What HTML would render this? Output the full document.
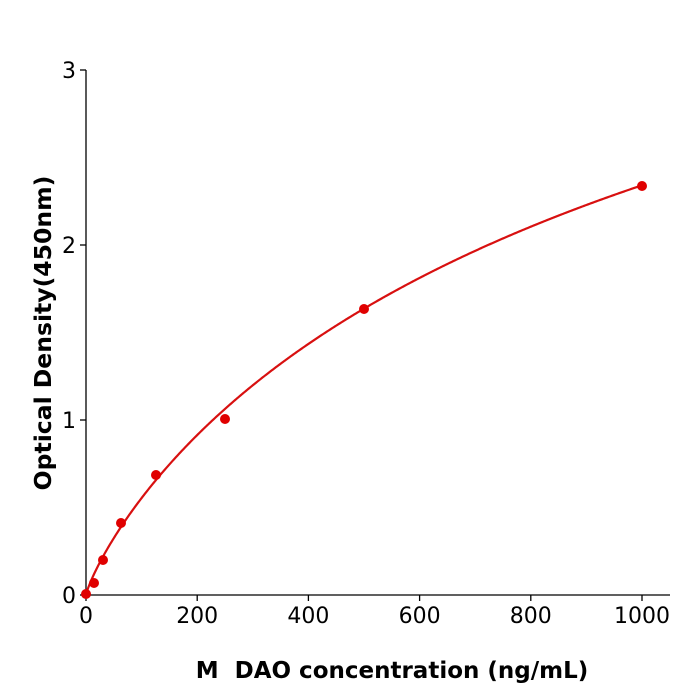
<!DOCTYPE html>
<html><head><meta charset="utf-8"><style>
body{margin:0;background:#fff}
svg{display:block}
text{font-family:"DejaVu Sans","Liberation Sans",sans-serif}
</style></head><body>
<svg id="s" width="700" height="700" viewBox="0 0 700 700">
<g stroke="#000" stroke-width="1.3" fill="none">
<line x1="86" y1="70" x2="86" y2="596"/>
<line x1="85" y1="595" x2="670" y2="595"/>
<line x1="80" y1="70" x2="86" y2="70"/>
<line x1="80" y1="245" x2="86" y2="245"/>
<line x1="80" y1="420" x2="86" y2="420"/>
<line x1="80" y1="595" x2="86" y2="595"/>
<line x1="86" y1="595" x2="86" y2="601"/>
<line x1="197.2" y1="595" x2="197.2" y2="601"/>
<line x1="308.4" y1="595" x2="308.4" y2="601"/>
<line x1="419.6" y1="595" x2="419.6" y2="601"/>
<line x1="530.8" y1="595" x2="530.8" y2="601"/>
<line x1="642" y1="595" x2="642" y2="601"/>
</g>
<g font-size="22" fill="#000" text-anchor="end">
<text x="76" y="78">3</text><text x="76" y="253">2</text><text x="76" y="428">1</text><text x="76" y="603">0</text>
</g>
<g font-size="22" fill="#000" text-anchor="middle">
<text x="86" y="623">0</text><text x="197.2" y="623">200</text><text x="308.4" y="623">400</text><text x="419.6" y="623">600</text><text x="530.8" y="623">800</text><text x="642" y="623">1000</text>
</g>
<text x="392" y="678" font-size="23" font-weight="bold" text-anchor="middle" xml:space="preserve" style="white-space:pre">M  DAO concentration (ng/mL)</text>
<text transform="translate(51,333) rotate(-90)" font-size="23.5" font-weight="bold" text-anchor="middle">Optical Density(450nm)</text>
<path id="c" fill="none" stroke="#d81010" stroke-width="2.2"/>
<g fill="#e00000">
<circle cx="86" cy="594" r="5"/><circle cx="94" cy="583" r="5"/><circle cx="103" cy="560" r="5"/><circle cx="121" cy="523" r="5"/><circle cx="156" cy="475" r="5"/><circle cx="225" cy="419" r="5"/><circle cx="364" cy="309" r="5"/><circle cx="642" cy="186" r="5"/>
</g>
</svg>
<script>
var T=[[31,0.2],[62.5,0.40],[125,0.67],[250,1.05],[500,1.64],[1000,2.34]];
function X(v){return 86+v*0.556}function Y(v){return 595-v*175}
var best=null;
for(var b=0.5;b<=1.2;b+=0.01){for(var c=200;c<=5000;c+=20){
 var s=0,n=0;T.forEach(function(t){var g=Math.pow(t[0],b)/(Math.pow(c,b)+Math.pow(t[0],b));s+=t[1]*g;n+=g*g});
 var d=s/n,e=0;T.forEach(function(t){var f=d*Math.pow(t[0],b)/(Math.pow(c,b)+Math.pow(t[0],b))-t[1];e+=f*f});
 if(!best||e<best[0])best=[e,b,c,d];}}
var b=best[1],c=best[2],d=best[3],p="";
for(var x=0;x<=1000;x+=2){var y=d*Math.pow(x,b)/(Math.pow(c,b)+Math.pow(x,b));p+=(x?"L":"M")+X(x).toFixed(2)+" "+Y(y).toFixed(2);}
document.getElementById("c").setAttribute("d",p);
</script>
</body></html>
